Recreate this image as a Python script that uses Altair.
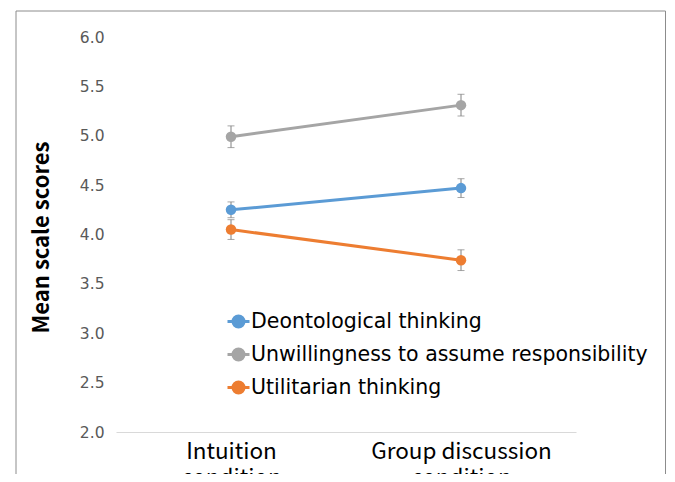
import altair as alt
import pandas as pd

conditions = ["Intuition\ncondition", "Group discussion\ncondition"]
series = ["Deontological thinking", "Unwillingness to assume responsibility", "Utilitarian thinking"]
deontological = [4.25, 4.47]
unwillingness = [4.99, 5.31]
utilitarian = [4.05, 3.74]
deontological_err = [0.08, 0.095]
unwillingness_err = [0.11, 0.11]
utilitarian_err = [0.10, 0.105]
colors = ["#5B9BD5", "#A5A5A5", "#ED7D31"]
y_ticks = [2.0, 2.5, 3.0, 3.5, 4.0, 4.5, 5.0, 5.5, 6.0]

rows = []
for name, means, errs in zip(series, [deontological, unwillingness, utilitarian],
                             [deontological_err, unwillingness_err, utilitarian_err]):
    for c, m, e in zip(conditions, means, errs):
        rows.append({"condition": c, "series": name, "mean": m, "err": e})
df = pd.DataFrame(rows)

x_axis = alt.Axis(
    title=None, labelAngle=0, labelExpr="split(datum.label, '\\n')",
    labelFont="Noto Sans CJK JP", labelFontSize=22.5, labelColor="#000000",
    labelLineHeight=26, labelPadding=8, labelLimit=400, ticks=False, domain=True,
    domainColor="#D9D9D9", domainWidth=1, grid=False, labelBaseline="top",
)
y_axis = alt.Axis(
    title="Mean scale scores", values=y_ticks, format=".1f", ticks=False, tickSize=0,
    domain=False, grid=False, labelFont="DejaVu Sans", labelFontSize=15.5,
    labelColor="#595959", labelPadding=12,
    titleFont="Noto Sans CJK JP", titleFontSize=22, titleFontWeight="bold",
    titleColor="#000000", titleX=-75, titleY=200, titleAngle=270,
    titleAlign="center", titleBaseline="middle",
)

x_enc = alt.X("condition:N", sort=conditions,
              scale=alt.Scale(type="point", padding=0.5), axis=x_axis)
y_scale = alt.Scale(domain=[2, 6], nice=False, zero=False)


def y_enc(field):
    return alt.Y(field, scale=y_scale, axis=y_axis)


legend_path = "M-1,0L1,0M0.5,0A0.5,0.5 0 1,1 -0.5,0A0.5,0.5 0 1,1 0.5,0Z"

series_legend = alt.Legend(
    title=None, orient="none", legendX=110, legendY=272,
    symbolType=legend_path, symbolSize=484, symbolStrokeWidth=3,
    symbolOpacity=1,
    labelFont="DejaVu Sans", labelFontSize=20.5, labelColor="#000000",
    labelOffset=0, rowPadding=9, labelLimit=700,
)


def color_enc():
    return alt.Color("series:N", scale=alt.Scale(domain=series, range=colors),
                     legend=series_legend)


base = alt.Chart(df).transform_calculate(
    lo="datum.mean - datum.err", hi="datum.mean + datum.err"
)

frame = alt.Chart(pd.DataFrame({"k": [0]})).mark_rect(
    fillOpacity=0, stroke="#8C8C8C", strokeWidth=1, clip=False
).encode(x=alt.value(-100), x2=alt.value(549.5), y=alt.value(-26), y2=alt.value(700))

err_rule = base.mark_rule(color="#808080", strokeWidth=1).encode(
    x=x_enc, y=y_enc("lo:Q"), y2="hi:Q"
)
err_lo = base.mark_tick(color="#808080", thickness=1, size=7).encode(
    x=x_enc, y=y_enc("lo:Q")
)
err_hi = base.mark_tick(color="#808080", thickness=1, size=7).encode(
    x=x_enc, y=y_enc("hi:Q")
)
lines = base.mark_line(strokeWidth=3).encode(
    x=x_enc, y=y_enc("mean:Q"), color=color_enc()
)
points = base.mark_point(size=110, opacity=1, filled=True, strokeWidth=0).encode(
    x=x_enc, y=y_enc("mean:Q"), color=color_enc()
)

chart = alt.layer(frame, err_rule, err_lo, err_hi, lines, points).properties(
    width=460, height=395,
    autosize=alt.AutoSizeParams(type="none"),
    padding={"left": 108, "top": 29, "right": 91, "bottom": 42},
    background="#FFFFFF",
).configure_view(strokeWidth=0)

chart.save("out.html", embed_options={"renderer": "svg", "actions": False})
